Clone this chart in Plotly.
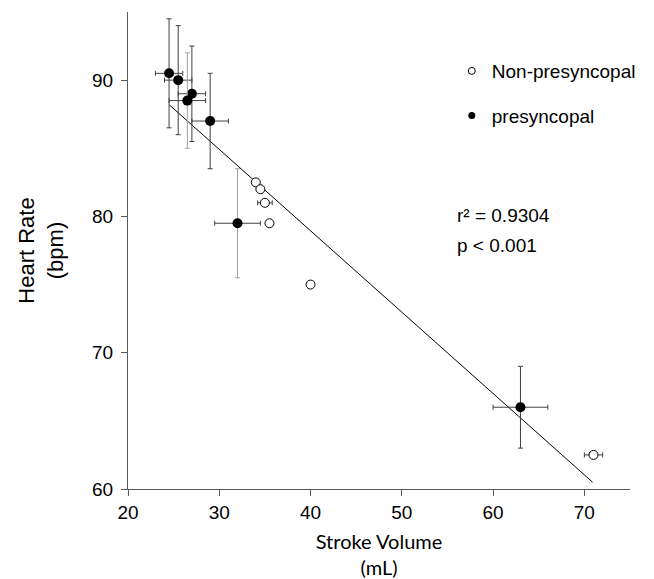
import plotly.graph_objects as go

# Presyncopal (filled) means and SD
pre_x = [24.5, 25.5, 27.0, 26.5, 29.0, 32.0, 63.0]
pre_y = [90.5, 90.0, 89.0, 88.5, 87.0, 79.5, 66.0]
pre_ex = [1.5, 1.5, 1.5, 2.0, 2.0, 2.5, 3.0]
pre_ey = [4.0, 4.0, 3.5, 3.5, 3.5, 4.0, 3.0]
pre_ey_col = ["#404040", "#404040", "#404040", "#a0a0a0", "#404040", "#a0a0a0", "#404040"]

# Non-presyncopal (open)
non_x = [34.0, 34.5, 35.0, 35.5, 40.0, 71.0]
non_y = [82.5, 82.0, 81.0, 79.5, 75.0, 62.5]
non_ex = [0.0, 0.0, 0.8, 0.0, 0.0, 1.0]

# Regression line
fit_x = [24.5, 70.9]
fit_y = [88.2, 60.5]

FONT = "Liberation Sans, Arial, sans-serif"
fig = go.Figure()

fig.add_trace(go.Scatter(x=fit_x, y=fit_y, mode="lines",
                         line=dict(color="black", width=1), showlegend=False,
                         hoverinfo="skip"))

for i in range(len(pre_x)):
    fig.add_trace(go.Scatter(
        x=[pre_x[i]], y=[pre_y[i]], mode="markers",
        marker=dict(color="black", size=10, line=dict(width=0)),
        error_x=dict(type="data", array=[pre_ex[i]], color="#404040", thickness=1, width=2.5),
        error_y=dict(type="data", array=[pre_ey[i]], color=pre_ey_col[i], thickness=1, width=2.5),
        showlegend=False))

fig.add_trace(go.Scatter(
    x=non_x, y=non_y, mode="markers",
    marker=dict(color="white", size=9, line=dict(color="black", width=1)),
    error_x=dict(type="data", array=non_ex, color="#404040", thickness=1, width=2.5),
    showlegend=False))

# legend entries
fig.add_trace(go.Scatter(x=[None], y=[None], mode="markers", name="Non-presyncopal",
                         legendgroup="a",
                         marker=dict(color="white", size=7, line=dict(color="black", width=1))))
fig.add_trace(go.Scatter(x=[None], y=[None], mode="markers", name="presyncopal",
                         legendgroup="b",
                         marker=dict(color="black", size=7)))

fig.add_annotation(x=55.8, y=80.1, text="r² = 0.9304", showarrow=False,
                   xanchor="left", font=dict(size=19, color="black", family=FONT))
fig.add_annotation(x=55.8, y=77.9, text="p < 0.001", showarrow=False,
                   xanchor="left", font=dict(size=19, color="black", family=FONT))

axis_common = dict(showline=True, linecolor="#595959", linewidth=1, ticks="outside",
                   ticklen=6, tickcolor="#595959", showgrid=False, zeroline=False,
                   automargin=False,
                   tickfont=dict(size=19, color="black", family=FONT))

fig.update_xaxes(range=[20, 75], tickvals=[20, 30, 40, 50, 60, 70], **axis_common,
                 title=dict(text="Stroke Volume<br>(mL)", standoff=14,
                            font=dict(size=20, color="black", family="Lato, sans-serif")))
fig.update_yaxes(range=[60, 95], tickvals=[60, 70, 80, 90], **axis_common,
                 ticklabelstandoff=4,
                 title=dict(text="Heart Rate<br>(bpm)", standoff=22,
                            font=dict(size=22, color="black", family=FONT)))

fig.update_layout(
    width=654, height=579,
    margin=dict(l=128, r=24, t=12, b=90),
    plot_bgcolor="white", paper_bgcolor="white",
    legend=dict(x=0.645, y=0.916, xanchor="left", yanchor="top",
                font=dict(size=19, color="black", family=FONT),
                tracegroupgap=17, bgcolor="rgba(0,0,0,0)"),
)

fig.write_html("out.html")
